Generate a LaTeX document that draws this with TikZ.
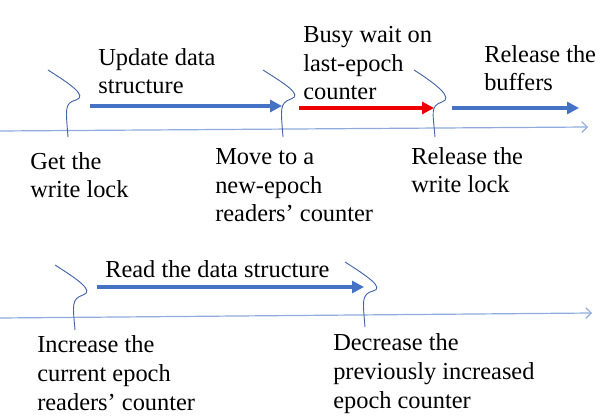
\documentclass[tikz,border=0pt]{standalone}
\usepackage{fontspec}
\setmainfont{Liberation Serif}
\usetikzlibrary{arrows.meta}
\definecolor{stepBlue}{RGB}{68, 114, 196}
\definecolor{lineBlue}{RGB}{143, 170, 220}
\definecolor{braceBlue}{RGB}{70, 100, 170}
\definecolor{waitRed}{RGB}{238, 0, 0}

\begin{document}
\begin{tikzpicture}[x=0.75pt, y=-0.75pt,
    lbl/.style={anchor=base west, inner sep=0pt, align=left, font=\fontsize{18.3}{21.4}\selectfont},
    phase/.style={-{Triangle[length=9pt, width=9pt]}, line width=3.6pt, stepBlue},
    axis/.style={-{Straight Barb[length=4pt, width=8pt]}, line width=0.9pt, lineBlue},
    brace/.style={braceBlue, line width=0.7pt}]
    \useasboundingbox (0,0) rectangle (605,416);

    % Writer timeline
    \coordinate (w0) at (0,131);
    \coordinate (w1) at (588,127);
    \draw[axis] (w0) -- (w1);

    % Writer phases
    \coordinate (u0) at (90,106);
    \coordinate (u1) at (282,106);
    \coordinate (b0) at (299,108);
    \coordinate (b1) at (434,108);
    \coordinate (r0) at (452,108);
    \coordinate (r1) at (579,108);
    \draw[phase] (u0) -- (u1);
    \draw[phase, waitRed] (b0) -- (b1);
    \draw[phase] (r0) -- (r1);

    % Writer braces
    \draw[brace] (48,70) .. controls (70,84) and (88,96) .. (76,100)
        .. controls (64,103) and (66,110) .. (68,137);
    \draw[brace] (263,70) .. controls (285,84) and (303,95) .. (291,99)
        .. controls (279,103) and (281,110) .. (283,137);
    \draw[brace] (414,70) .. controls (436,84) and (454,98) .. (442,102)
        .. controls (430,106) and (433,112) .. (435,137);

    % Writer labels (placed at the baseline of their last line)
    \node[lbl] (upd) at (98,94) {Update data\\structure};
    \node[lbl] (busy) at (303,100) {Busy wait on\\last-epoch\\counter};
    \node[lbl] (relbuf) at (484,91) {Release the\\buffers};
    \node[lbl] (getlock) at (30,198) {Get the\\write lock};
    \node[lbl] (move) at (215,222) {Move to a\\new-epoch\\readers’ counter};
    \node[lbl] (rellock) at (411,193) {Release the\\write lock};

    % Reader timeline
    \coordinate (d0) at (0,318);
    \coordinate (d1) at (592,313);
    \draw[axis] (d0) -- (d1);

    % Reader phase
    \coordinate (rd0) at (97,287);
    \coordinate (rd1) at (364,287);
    \draw[phase] (rd0) -- (rd1);

    % Reader braces
    \draw[brace] (55,265) .. controls (77,279) and (95,291) .. (83,295)
        .. controls (71,299) and (73,306) .. (75,330);
    \draw[brace] (345,262) .. controls (367,276) and (385,288) .. (373,291)
        .. controls (361,294) and (363,302) .. (365,327);

    % Reader labels
    \node[lbl] (read) at (105,277) {Read the data structure};
    \node[lbl] (inc) at (37,410) {Increase the\\current epoch\\readers’ counter};
    \node[lbl] (dec) at (333,408) {Decrease the\\previously increased\\epoch counter};
\end{tikzpicture}
\end{document}
